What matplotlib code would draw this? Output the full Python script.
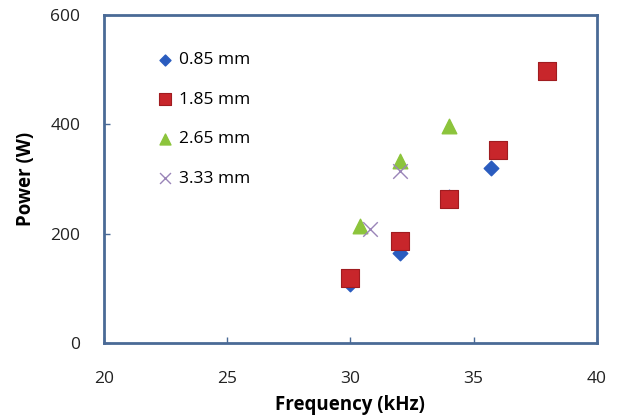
import numpy as np
import matplotlib.pyplot as plt

# data
f_085 = [30.0, 32.0, 34.0, 35.7]
p_085 = [108, 165, 268, 321]
f_185 = [30.0, 32.0, 34.0, 36.0, 38.0]
p_185 = [120, 187, 263, 354, 498]
f_265 = [30.4, 32.0, 34.0]
p_265 = [215, 333, 397]
f_333 = [30.8, 32.0]
p_333 = [208, 315]

plt.rcParams['font.family'] = ['Open Sans', 'DejaVu Sans']

fig = plt.figure(figsize=(6.19, 4.19), dpi=100)
ax = fig.add_axes([0.168, 0.181, 0.796, 0.783])

ax.scatter(f_085, p_085, marker='D', s=55, color='#2a5cbf', edgecolors='#2a5cbf', label='0.85 mm', zorder=3)
ax.scatter(f_185, p_185, marker='s', s=150, color='#c8262b', edgecolors='#a01c20', linewidths=0.8, label='1.85 mm', zorder=4)
ax.scatter(f_265, p_265, marker='^', s=110, color='#8cc43c', edgecolors='#8cc43c', label='2.65 mm', zorder=3)
ax.scatter(f_333, p_333, marker='x', s=110, color='#9a84b8', linewidths=1.0, label='3.33 mm', zorder=5)

ax.set_xlim(20, 40)
ax.set_ylim(0, 600)
ax.set_xticks([20, 25, 30, 35, 40])
ax.set_yticks([0, 200, 400, 600])
ax.tick_params(direction='in', length=4, width=1, color='#4a6a96', labelsize=12.5, colors='#222222')
ax.tick_params(axis='x', pad=20)
ax.tick_params(axis='y', pad=17)
for s in ax.spines.values():
    s.set_color('#4a6a96')
    s.set_linewidth(2)

ax.set_xlabel('Frequency (kHz)', fontsize=13.5, fontweight='bold', labelpad=6)
ax.set_ylabel('Power (W)', fontsize=13.5, fontweight='bold', labelpad=10)

ax.legend(loc='upper left', bbox_to_anchor=(0.074, 0.935), frameon=False, fontsize=12.5,
          handlelength=1.0, handletextpad=0.3, labelspacing=1.35, scatterpoints=1, markerscale=0.75)

fig.savefig('out.png', dpi=100)
